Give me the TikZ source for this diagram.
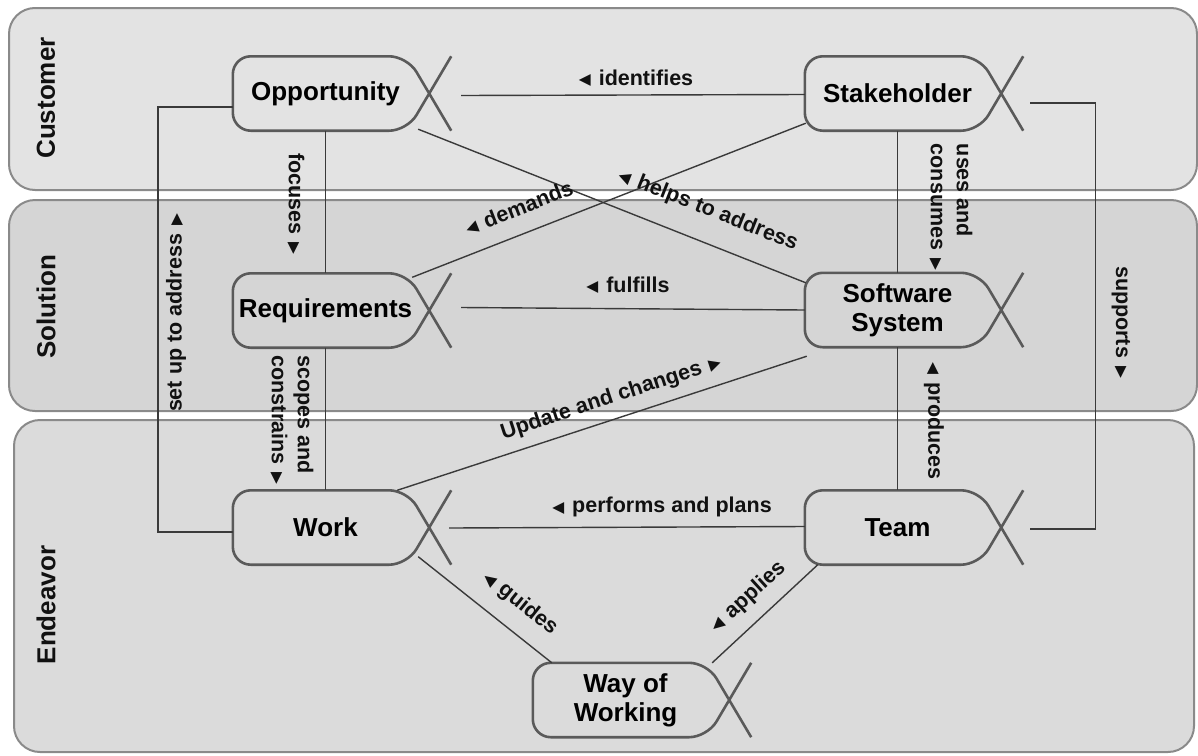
\documentclass[tikz,border=0pt]{standalone}
\usepackage{fontspec}
\setmainfont{Liberation Sans}
\newfontfamily\symf{DejaVu Sans}
\usetikzlibrary{calc}
\definecolor{bandA}{HTML}{E3E3E3}
\definecolor{bandB}{HTML}{D5D5D5}
\definecolor{bandC}{HTML}{DBDBDB}
\definecolor{bandline}{HTML}{8A8A8A}
\definecolor{entcol}{HTML}{5A5A5A}
\definecolor{conncol}{HTML}{3A3A3A}
\definecolor{txtcol}{HTML}{111111}
\newcommand\tri[1]{\raisebox{0.5pt}{\symf\fontsize{15.5}{15.5}\selectfont #1}}
\newcommand\LT{\tri{◀}\hspace{8pt}}
\newcommand\RT{\hspace{8pt}\tri{▶}}
\newcommand\entshape[1]{\draw[entline] ($(#1.north east)+(33,0)$) -- ($(#1.south east)+(-11,0)$) -- (#1.south west) -- (#1.north west) -- ($(#1.north east)+(-11,0)$) -- ($(#1.south east)+(33,0)$);}
\begin{document}
\begin{tikzpicture}[x=1pt,y=1pt,
 band/.style={draw=bandline, line width=2pt, rounded corners=26pt},
 ent/.style={minimum width=185pt, minimum height=74pt, inner sep=0pt, font=\fontsize{26}{29}\selectfont\bfseries, align=center, text=black},
 entline/.style={draw=entcol, line width=2.6pt, rounded corners=18pt},
 conn/.style={draw=conncol, line width=1.4pt},
 lbl/.style={font=\fontsize{21.5}{26}\selectfont\bfseries, inner sep=0pt, text=txtcol},
 bandlbl/.style={font=\fontsize{26}{30}\selectfont\bfseries, rotate=90, inner sep=0pt, text=txtcol}
]
\useasboundingbox (0,0) rectangle (1198,-755);
\path[band, fill=bandA] (9,-8) rectangle (1197,-190);
\path[band, fill=bandB] (9,-200) rectangle (1197,-411);
\path[band, fill=bandC] (14,-420) rectangle (1194,-752);
\node[bandlbl] (lc) at (46,-98) {Customer};
\node[bandlbl] (ls) at (46,-307) {Solution};
\node[bandlbl] (le) at (46,-605) {Endeavor};

\node[ent] (opp) at (325.5,-93.5) {Opportunity};
\node[ent] (stk) at (897.5,-93.5) {Stakeholder};
\node[ent] (req) at (325.5,-310.5) {Requirements};
\node[ent] (sws) at (897.5,-310) {Software\\System};
\node[ent] (work) at (325.5,-527.5) {Work};
\node[ent] (team) at (897.5,-527.5) {Team};
\node[ent] (wow) at (625.5,-700) {Way of\\Working};
\foreach \n in {opp,stk,req,sws,work,team,wow}{\entshape{\n}}

\draw[conn] ($(opp.east)+(43,-2)$) -- ($(stk.west)+(0,-1)$);
\coordinate (s1) at ($(stk.east)+(40,-9.5)$);
\coordinate (s2) at ($(team.east)+(40,-1.5)$);
\draw[conn] (s1) -- ++(65,0) |- (s2);
\coordinate (a1) at ($(opp.west)+(0,-13.5)$);
\coordinate (a2) at ($(work.west)+(0,-4.5)$);
\draw[conn] (a1) -- ++(-75,0) |- (a2);
\draw[conn] (opp.south) -- (req.north);
\draw[conn] (req.south) -- (work.north);
\draw[conn] (stk.south) -- (sws.north);
\draw[conn] (sws.south) -- (team.north);
\draw[conn] ($(opp.south east)+(0,1.5)$) -- ($(sws.north west)+(1,-10)$);
\draw[conn] ($(req.north east)+(-6,-4)$) -- ($(stk.south west)+(1,7.5)$);
\draw[conn] ($(req.east)+(43,3)$) -- (sws.west);
\draw[conn] ($(work.north east)+(-21,0)$) -- ($(sws.south west)+(2,-9)$);
\draw[conn] ($(work.east)+(31,-0.5)$) -- ($(team.west)+(0,1)$);
\draw[conn] ($(work.south east)+(0,8)$) -- ($(wow.north west)+(19,0)$);
\draw[conn] ($(team.south west)+(13,0)$) -- ($(wow.north east)+(-6,0)$);

\node[lbl] (l1) at (636,-78) {\LT identifies};
\node[lbl, rotate=-90] (l2) at (1121,-322) {supports\RT};
\node[lbl, rotate=90] (l3) at (176,-313) {set up to address\RT};
\node[lbl, rotate=-90] (l4) at (296,-204) {focuses\RT};
\node[lbl, rotate=-90, align=left] (l5) at (292,-420) {scopes and\\constrains\RT};
\node[lbl, rotate=-90, align=left] (l6) at (951,-207) {uses and\\consumes\RT};
\node[lbl, rotate=-90] (l7) at (934,-421) {\LT produces};
\node[lbl, rotate=-21.6] (l8) at (708,-210) {\LT helps to address};
\node[lbl, rotate=21.3] (l9) at (519,-208) {\LT demands};
\node[lbl] (l10) at (628,-285) {\LT fulfills};
\node[lbl, rotate=18.1] (l11) at (611,-398) {Update and changes\RT};
\node[lbl] (l12) at (662,-507) {\LT performs and plans};
\node[lbl, rotate=-38.6] (l13) at (520,-603) {\LT guides};
\node[lbl, rotate=42.5] (l14) at (748,-597) {\LT applies};
\end{tikzpicture}
\end{document}
